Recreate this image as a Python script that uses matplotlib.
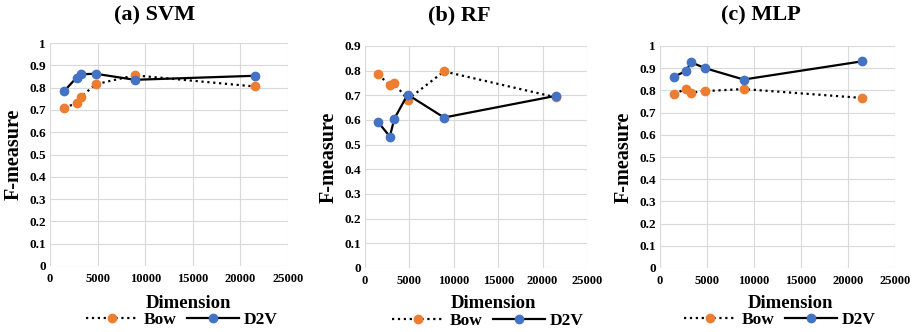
import numpy as np
import matplotlib.pyplot as plt

plt.rcParams['font.family'] = ['Liberation Serif', 'DejaVu Serif']
plt.rcParams['font.weight'] = 'bold'

# data
dims = [1500, 2800, 3300, 4800, 8900, 21500]
titles = ['(a) SVM', '(b) RF', '(c) MLP']
bow = [
    [0.71, 0.73, 0.76, 0.815, 0.855, 0.805],
    [0.785, 0.74, 0.748, 0.683, 0.797, 0.692],
    [0.783, 0.808, 0.79, 0.797, 0.806, 0.766],
]
d2v = [
    [0.785, 0.845, 0.86, 0.862, 0.835, 0.853],
    [0.59, 0.533, 0.605, 0.703, 0.61, 0.698],
    [0.862, 0.888, 0.927, 0.9, 0.849, 0.931],
]
ymax = [1.0, 0.9, 1.0]
yticklabels = [
    ['0', '0.1', '0.2', '0.3', '0.4', '0.5', '0.6', '0.7', '0.8', '0.9', '1'],
    ['0', '0.1', '0.2', '0.3', '0.4', '0.5', '0.6', '0.7', '0.8', '0.9'],
    ['0', '0.1', '0.2', '0.3', '0.4', '0.5', '0.6', '0.7', '0.8', '0.9', '1'],
]
xticks = [0, 5000, 10000, 15000, 20000, 25000]

orange = '#ED7D31'
blue = '#4472C4'
W, H = 915, 332

# layout in pixels
boxes = [(50, 288, 43, 266), (365, 587, 46, 268), (660, 895, 46, 268)]  # l, r, t, b
title_x = [155, 459, 761]
xlabel_x = [188, 493, 790]
legend_pos = [(182, 320), (488, 321), (780, 320)]

fig = plt.figure(figsize=(W / 100, H / 100), dpi=100)

for i in range(3):
    l, r, t, b = boxes[i]
    ax = fig.add_axes([l / W, 1 - b / H, (r - l) / W, (b - t) / H])
    ax.plot(dims, bow[i], color='black', ls=':', lw=1.6, marker='o', ms=6,
            mfc=orange, mec=orange, label='Bow', zorder=3)
    ax.plot(dims, d2v[i], color='black', ls='-', lw=1.6, marker='o', ms=6,
            mfc=blue, mec=blue, label='D2V', zorder=4)
    ax.set_xlim(0, 25000)
    ax.set_ylim(0, ymax[i])
    ax.set_xticks(xticks)
    ax.set_xticklabels([str(v) for v in xticks], fontsize=9, fontweight='bold')
    yt = np.arange(len(yticklabels[i])) / 10
    ax.set_yticks(yt)
    ax.set_yticklabels(yticklabels[i], fontsize=9.5, fontweight='bold')
    ax.grid(True, color='#D9D9D9', lw=0.8)
    ax.set_axisbelow(True)
    for s in ax.spines.values():
        s.set_visible(False)
    ax.tick_params(axis='x', length=0, pad=5)
    ax.tick_params(axis='y', length=0, pad=3)
    ax.set_ylabel('F-measure', fontsize=14.5, fontweight='bold', labelpad=4)

    # excel-style chart: title/axis title/legend placed on the chart area
    fig.text(title_x[i] / W, 1 - 15 / H, titles[i], fontsize=16, fontweight='bold',
             ha='center', va='center')
    fig.text(xlabel_x[i] / W, 1 - 304 / H, 'Dimension', fontsize=13.5,
             fontweight='bold', ha='center', va='center')
    lx, ly = legend_pos[i]
    ax.legend(loc='center', bbox_to_anchor=(lx / W, 1 - ly / H),
              bbox_transform=fig.transFigure, ncol=2, frameon=False,
              fontsize=12.5, handlelength=3, columnspacing=0.6, handletextpad=0.3,
              borderaxespad=0, borderpad=0)

fig.savefig('out.png', dpi=100)
